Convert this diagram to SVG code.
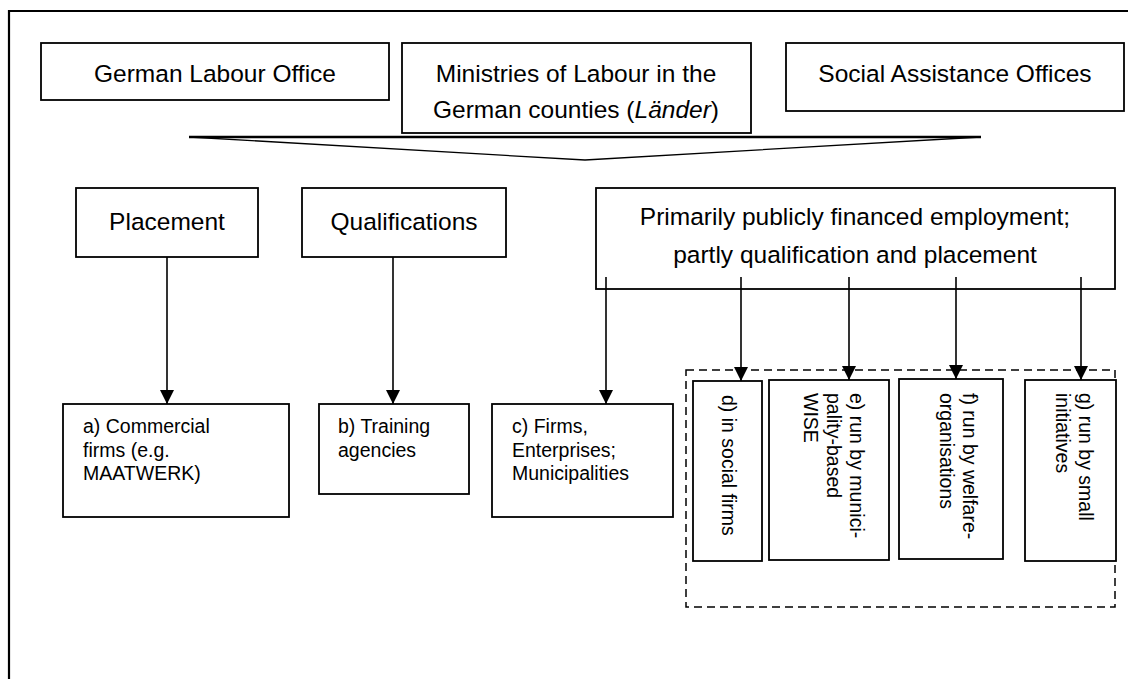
<svg xmlns="http://www.w3.org/2000/svg" width="1128" height="679" viewBox="0 0 1128 679">
<style>
.box{fill:#fff;stroke:#000;stroke-width:1.8}
.big{font-family:"Liberation Sans",Arial,sans-serif;font-size:24.5px;fill:#000}
.sm{font-family:"Liberation Sans",Arial,sans-serif;font-size:19.5px;fill:#000}
.con{stroke:#000;stroke-width:1.6;fill:none}
</style>
<defs>
<marker id="ah" markerWidth="14" markerHeight="14" refX="14" refY="7" orient="auto" markerUnits="userSpaceOnUse">
<path d="M0,0 L14,7 L0,14 Z" fill="#000"/>
</marker>
</defs>
<rect width="1128" height="679" fill="#fff"/>
<path d="M9,679 V11 H1128" fill="none" stroke="#000" stroke-width="2.2"/>

<g id="german-labour-office"><rect class="box" x="41" y="43" width="348" height="57"/><text class="big" x="215" y="82" text-anchor="middle">German Labour Office</text></g>
<g id="ministries"><rect class="box" x="402" y="43" width="349" height="90"/><text class="big" x="576" y="82" text-anchor="middle">Ministries of Labour in the</text><text class="big" x="576" y="118" text-anchor="middle">German counties (<tspan font-style="italic">Länder</tspan>)</text></g>
<g id="social-assistance"><rect class="box" x="786" y="43" width="338" height="68"/><text class="big" x="955" y="82" text-anchor="middle">Social Assistance Offices</text></g>

<g id="chevron"><polygon points="189,137 981,137 585,160" fill="#fff" stroke="#000" stroke-width="1.3"/><line x1="189" y1="137" x2="981" y2="137" stroke="#000" stroke-width="2.4"/></g>

<g id="placement"><rect class="box" x="76" y="188" width="182" height="69"/><text class="big" x="167" y="230" text-anchor="middle">Placement</text></g>
<g id="qualifications"><rect class="box" x="302" y="188" width="204" height="69"/><text class="big" x="404" y="230" text-anchor="middle">Qualifications</text></g>
<g id="public-employment"><rect class="box" x="596" y="188" width="519" height="101"/><text class="big" x="855" y="225" text-anchor="middle">Primarily publicly financed employment;</text><text class="big" x="855" y="263" text-anchor="middle">partly qualification and placement</text></g>

<g id="a-commercial"><rect class="box" x="63" y="404" width="226" height="113"/><text class="sm" x="83" y="433">a) Commercial</text><text class="sm" x="83" y="456.5">firms (e.g.</text><text class="sm" x="83" y="480">MAATWERK)</text></g>
<g id="b-training"><rect class="box" x="319" y="404" width="150" height="90"/><text class="sm" x="338" y="433">b) Training</text><text class="sm" x="338" y="456.5">agencies</text></g>
<g id="c-firms"><rect class="box" x="492" y="404" width="181" height="113"/><text class="sm" x="512" y="433">c) Firms,</text><text class="sm" x="512" y="456.5">Enterprises;</text><text class="sm" x="512" y="480">Municipalities</text></g>

<g id="social-economy-group"><rect x="686" y="370" width="429" height="237" fill="none" stroke="#000" stroke-width="1.5" stroke-dasharray="8,5"/></g>
<g id="d-social-firms"><rect class="box" x="693" y="381" width="69" height="180"/><text class="sm" transform="translate(722,395) rotate(90)">d) in social firms</text></g>
<g id="e-municipality"><rect class="box" x="769" y="380" width="120" height="180"/><text class="sm" transform="translate(850,393) rotate(90)">e) run by munici-</text><text class="sm" transform="translate(827,393) rotate(90)">pality-based</text><text class="sm" transform="translate(804,393) rotate(90)">WISE</text></g>
<g id="f-welfare"><rect class="box" x="899" y="379" width="104" height="180"/><text class="sm" transform="translate(963,393) rotate(90)">f) run by welfare-</text><text class="sm" transform="translate(940,393) rotate(90)">organisations</text></g>
<g id="g-small"><rect class="box" x="1025" y="380" width="91" height="181"/><text class="sm" transform="translate(1079,393) rotate(90)">g) run by small</text><text class="sm" transform="translate(1056,393) rotate(90)">initiatives</text></g>

<g id="connectors">
<line class="con" x1="167" y1="257" x2="167" y2="404" marker-end="url(#ah)"/>
<line class="con" x1="393" y1="257" x2="393" y2="404" marker-end="url(#ah)"/>
<line class="con" x1="606" y1="277" x2="606" y2="404" marker-end="url(#ah)"/>
<line class="con" x1="741" y1="277" x2="741" y2="381" marker-end="url(#ah)"/>
<line class="con" x1="849" y1="277" x2="849" y2="380" marker-end="url(#ah)"/>
<line class="con" x1="956" y1="277" x2="956" y2="379" marker-end="url(#ah)"/>
<line class="con" x1="1081" y1="277" x2="1081" y2="380" marker-end="url(#ah)"/>
</g>
</svg>
